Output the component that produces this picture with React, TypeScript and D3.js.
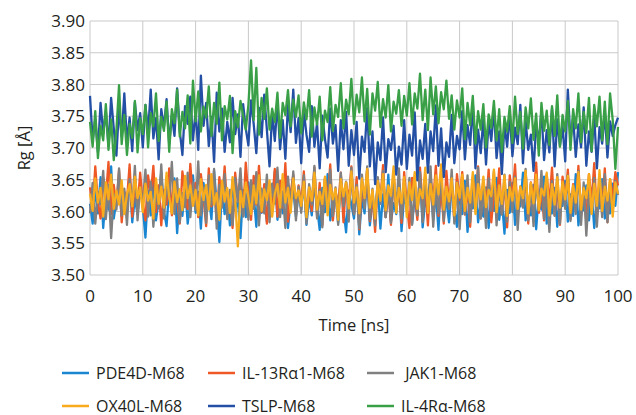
import React from "react";
import * as d3 from "d3";

// Rg values sampled every 0.5 ns over 0..100 ns
const pde4d = [
  3.612, 3.581, 3.638, 3.597, 3.654, 3.574, 3.626, 3.603, 3.671, 3.589, 3.617, 3.644, 3.592, 3.629, 3.606, 3.658, 3.583, 3.621, 3.596, 3.641,
  3.607, 3.559, 3.633, 3.594, 3.648, 3.586, 3.619, 3.662, 3.601, 3.577, 3.636, 3.609, 3.652, 3.566, 3.624, 3.593, 3.642, 3.581, 3.615, 3.657,
  3.598, 3.631, 3.573, 3.645, 3.606, 3.623, 3.588, 3.664, 3.611, 3.552, 3.637, 3.596, 3.628, 3.578, 3.649, 3.602, 3.619, 3.558, 3.634, 3.591,
  3.646, 3.604, 3.627, 3.576, 3.653, 3.598, 3.618, 3.584, 3.641, 3.609, 3.663, 3.587, 3.625, 3.597, 3.648, 3.574, 3.616, 3.635, 3.592, 3.629,
  3.603, 3.651, 3.579, 3.622, 3.594, 3.644, 3.608, 3.571, 3.637, 3.599, 3.659, 3.586, 3.614, 3.626, 3.582, 3.648, 3.605, 3.567, 3.632, 3.611,
  3.589, 3.643, 3.564, 3.621, 3.597, 3.654, 3.578, 3.616, 3.602, 3.639, 3.573, 3.627, 3.591, 3.658, 3.584, 3.613, 3.596, 3.645, 3.569, 3.624,
  3.607, 3.639, 3.581, 3.622, 3.594, 3.661, 3.575, 3.618, 3.603, 3.646, 3.587, 3.629, 3.571, 3.652, 3.599, 3.617, 3.583, 3.641, 3.608, 3.576,
  3.631, 3.596, 3.648, 3.568, 3.621, 3.605, 3.657, 3.583, 3.614, 3.592, 3.638, 3.574, 3.626, 3.601, 3.653, 3.587, 3.619, 3.565, 3.634, 3.598,
  3.645, 3.579, 3.623, 3.608, 3.661, 3.586, 3.616, 3.594, 3.642, 3.572, 3.628, 3.603, 3.655, 3.581, 3.612, 3.597, 3.637, 3.576, 3.624, 3.609,
  3.648, 3.584, 3.627, 3.593, 3.659, 3.578, 3.614, 3.602, 3.641, 3.586, 3.632, 3.574, 3.618, 3.605, 3.651, 3.589, 3.623, 3.597, 3.644, 3.609, 3.662,
];

const il13 = [
  3.638, 3.602, 3.671, 3.614, 3.589, 3.653, 3.621, 3.678, 3.596, 3.642, 3.608, 3.665, 3.583, 3.631, 3.617, 3.674, 3.592, 3.648, 3.606, 3.661,
  3.613, 3.586, 3.657, 3.624, 3.672, 3.599, 3.641, 3.578, 3.634, 3.611, 3.668, 3.594, 3.647, 3.619, 3.581, 3.663, 3.627, 3.604, 3.675, 3.616,
  3.645, 3.591, 3.659, 3.622, 3.577, 3.668, 3.608, 3.639, 3.585, 3.654, 3.613, 3.671, 3.597, 3.632, 3.574, 3.661, 3.618, 3.649, 3.593, 3.677,
  3.624, 3.587, 3.656, 3.611, 3.672, 3.599, 3.643, 3.581, 3.635, 3.614, 3.667, 3.592, 3.648, 3.606, 3.676, 3.584, 3.629, 3.658, 3.597, 3.641,
  3.612, 3.663, 3.588, 3.637, 3.601, 3.669, 3.594, 3.645, 3.578, 3.652, 3.619, 3.674, 3.586, 3.633, 3.608, 3.661, 3.583, 3.646, 3.615, 3.671,
  3.596, 3.654, 3.572, 3.638, 3.609, 3.666, 3.585, 3.627, 3.568, 3.649, 3.617, 3.673, 3.591, 3.636, 3.579, 3.658, 3.603, 3.644, 3.582, 3.662,
  3.611, 3.574, 3.653, 3.624, 3.587, 3.669, 3.602, 3.641, 3.578, 3.657, 3.616, 3.672, 3.593, 3.635, 3.581, 3.664, 3.609, 3.647, 3.586, 3.659,
  3.618, 3.662, 3.595, 3.638, 3.576, 3.654, 3.613, 3.671, 3.589, 3.643, 3.604, 3.666, 3.583, 3.629, 3.611, 3.668, 3.596, 3.648, 3.575, 3.657,
  3.621, 3.674, 3.592, 3.639, 3.607, 3.663, 3.581, 3.646, 3.616, 3.677, 3.598, 3.634, 3.586, 3.658, 3.612, 3.669, 3.594, 3.641, 3.579, 3.655,
  3.617, 3.666, 3.588, 3.643, 3.602, 3.672, 3.595, 3.637, 3.584, 3.659, 3.614, 3.676, 3.591, 3.645, 3.606, 3.668, 3.583, 3.651, 3.619, 3.662, 3.641,
];

const jak1 = [
  3.597, 3.645, 3.581, 3.631, 3.612, 3.664, 3.588, 3.642, 3.558, 3.627, 3.603, 3.668, 3.594, 3.636, 3.579, 3.651, 3.608, 3.672, 3.586, 3.638,
  3.614, 3.666, 3.592, 3.647, 3.576, 3.633, 3.605, 3.674, 3.589, 3.641, 3.619, 3.678, 3.596, 3.652, 3.583, 3.629, 3.607, 3.661, 3.591, 3.646,
  3.603, 3.679, 3.594, 3.638, 3.582, 3.657, 3.611, 3.667, 3.573, 3.642, 3.606, 3.659, 3.588, 3.634, 3.579, 3.653, 3.615, 3.668, 3.592, 3.628,
  3.587, 3.649, 3.604, 3.662, 3.578, 3.636, 3.597, 3.658, 3.583, 3.644, 3.612, 3.669, 3.591, 3.631, 3.574, 3.655, 3.607, 3.663, 3.586, 3.639,
  3.598, 3.657, 3.581, 3.643, 3.611, 3.672, 3.589, 3.634, 3.575, 3.651, 3.604, 3.666, 3.593, 3.638, 3.579, 3.661, 3.608, 3.647, 3.584, 3.669,
  3.596, 3.642, 3.574, 3.658, 3.605, 3.671, 3.587, 3.636, 3.578, 3.654, 3.612, 3.664, 3.591, 3.639, 3.582, 3.657, 3.603, 3.668, 3.589, 3.645,
  3.601, 3.653, 3.579, 3.637, 3.594, 3.662, 3.583, 3.648, 3.609, 3.671, 3.576, 3.641, 3.597, 3.659, 3.585, 3.634, 3.604, 3.666, 3.581, 3.646,
  3.572, 3.638, 3.596, 3.657, 3.583, 3.644, 3.608, 3.669, 3.589, 3.635, 3.574, 3.652, 3.601, 3.663, 3.578, 3.641, 3.595, 3.658, 3.584, 3.647,
  3.599, 3.655, 3.571, 3.639, 3.606, 3.667, 3.586, 3.643, 3.577, 3.651, 3.602, 3.664, 3.588, 3.636, 3.568, 3.648, 3.593, 3.659, 3.581, 3.642,
  3.604, 3.657, 3.585, 3.638, 3.596, 3.664, 3.579, 3.646, 3.562, 3.631, 3.598, 3.653, 3.576, 3.642, 3.591, 3.659, 3.583, 3.637, 3.602, 3.648, 3.626,
];

const ox40l = [
  3.628, 3.601, 3.652, 3.614, 3.637, 3.592, 3.646, 3.619, 3.658, 3.604, 3.633, 3.611, 3.649, 3.596, 3.627, 3.643, 3.608, 3.655, 3.621, 3.638,
  3.599, 3.644, 3.617, 3.631, 3.589, 3.652, 3.612, 3.639, 3.606, 3.661, 3.623, 3.597, 3.647, 3.615, 3.635, 3.602, 3.656, 3.621, 3.641, 3.609,
  3.634, 3.594, 3.651, 3.618, 3.642, 3.603, 3.659, 3.611, 3.629, 3.587, 3.648, 3.616, 3.637, 3.598, 3.654, 3.619, 3.545, 3.632, 3.607, 3.646,
  3.622, 3.596, 3.641, 3.613, 3.657, 3.601, 3.635, 3.618, 3.649, 3.592, 3.628, 3.643, 3.606, 3.659, 3.614, 3.637, 3.598, 3.652, 3.621, 3.633,
  3.609, 3.647, 3.591, 3.638, 3.617, 3.661, 3.603, 3.631, 3.612, 3.655, 3.594, 3.642, 3.619, 3.636, 3.587, 3.651, 3.624, 3.646, 3.605, 3.663,
  3.614, 3.638, 3.597, 3.652, 3.621, 3.667, 3.606, 3.634, 3.589, 3.648, 3.617, 3.659, 3.602, 3.641, 3.625, 3.671, 3.598, 3.637, 3.613, 3.654,
  3.591, 3.646, 3.618, 3.662, 3.604, 3.635, 3.621, 3.669, 3.598, 3.643, 3.611, 3.657, 3.627, 3.674, 3.603, 3.639, 3.616, 3.652, 3.594, 3.645,
  3.622, 3.658, 3.601, 3.637, 3.614, 3.662, 3.596, 3.643, 3.619, 3.655, 3.607, 3.634, 3.624, 3.666, 3.599, 3.641, 3.612, 3.657, 3.593, 3.638,
  3.617, 3.652, 3.604, 3.639, 3.621, 3.664, 3.597, 3.645, 3.613, 3.658, 3.602, 3.636, 3.625, 3.661, 3.594, 3.643, 3.611, 3.654, 3.606, 3.647,
  3.619, 3.656, 3.598, 3.641, 3.614, 3.662, 3.603, 3.637, 3.621, 3.659, 3.596, 3.644, 3.609, 3.665, 3.601, 3.639, 3.617, 3.651, 3.592, 3.646, 3.628,
];

const tslp = [
  3.782, 3.712, 3.745, 3.694, 3.771, 3.723, 3.758, 3.703, 3.779, 3.731, 3.688, 3.764, 3.718, 3.786, 3.709, 3.748, 3.695, 3.772, 3.728, 3.755,
  3.701, 3.768, 3.724, 3.792, 3.715, 3.747, 3.682, 3.761, 3.733, 3.777, 3.706, 3.752, 3.719, 3.794, 3.727, 3.689, 3.766, 3.738, 3.781, 3.712,
  3.758, 3.697, 3.814, 3.735, 3.771, 3.703, 3.749, 3.678, 3.787, 3.726, 3.762, 3.694, 3.741, 3.709, 3.779, 3.722, 3.753, 3.686, 3.769, 3.731,
  3.704, 3.775, 3.738, 3.692, 3.763, 3.717, 3.784, 3.729, 3.671, 3.756, 3.711, 3.772, 3.698, 3.744, 3.683, 3.769, 3.725, 3.792, 3.708, 3.747,
  3.676, 3.758, 3.721, 3.694, 3.766, 3.702, 3.739, 3.668, 3.751, 3.714, 3.685, 3.762, 3.707, 3.736, 3.664, 3.744, 3.698, 3.757, 3.672, 3.728,
  3.689, 3.741, 3.652, 3.718, 3.694, 3.763, 3.671, 3.726, 3.643, 3.709, 3.681, 3.748, 3.662, 3.714, 3.697, 3.735, 3.658, 3.702, 3.674, 3.744,
  3.667, 3.721, 3.688, 3.756, 3.649, 3.712, 3.683, 3.738, 3.661, 3.726, 3.695, 3.767, 3.672, 3.731, 3.654, 3.709, 3.686, 3.752, 3.676, 3.719,
  3.698, 3.758, 3.682, 3.736, 3.705, 3.771, 3.668, 3.729, 3.692, 3.747, 3.674, 3.741, 3.711, 3.763, 3.684, 3.726, 3.659, 3.738, 3.702, 3.754,
  3.687, 3.732, 3.706, 3.768, 3.676, 3.743, 3.697, 3.721, 3.664, 3.737, 3.709, 3.759, 3.681, 3.728, 3.693, 3.762, 3.671, 3.745, 3.703, 3.734,
  3.679, 3.792, 3.712, 3.748, 3.686, 3.737, 3.701, 3.764, 3.672, 3.726, 3.694, 3.751, 3.668, 3.733, 3.707, 3.757, 3.685, 3.742, 3.719, 3.736, 3.748,
];

const il4r = [
  3.741, 3.702, 3.758, 3.684, 3.735, 3.712, 3.769, 3.697, 3.745, 3.681, 3.728, 3.799, 3.706, 3.752, 3.689, 3.738, 3.716, 3.774, 3.693, 3.747,
  3.722, 3.768, 3.701, 3.755, 3.734, 3.786, 3.711, 3.749, 3.727, 3.773, 3.694, 3.761, 3.739, 3.792, 3.718, 3.757, 3.731, 3.783, 3.707, 3.806,
  3.742, 3.789, 3.726, 3.765, 3.748, 3.797, 3.719, 3.771, 3.738, 3.803, 3.712, 3.766, 3.745, 3.782, 3.692, 3.758, 3.733, 3.774, 3.751, 3.729,
  3.768, 3.838, 3.744, 3.826, 3.721, 3.779, 3.746, 3.794, 3.729, 3.762, 3.741, 3.787, 3.716, 3.771, 3.752, 3.791, 3.734, 3.776, 3.749, 3.783,
  3.723, 3.772, 3.745, 3.791, 3.718, 3.764, 3.737, 3.781, 3.712, 3.759, 3.741, 3.796, 3.727, 3.768, 3.749, 3.802, 3.731, 3.776, 3.753, 3.809,
  3.738, 3.784, 3.756, 3.811, 3.742, 3.793, 3.721, 3.786, 3.759, 3.804, 3.733, 3.777, 3.748, 3.799, 3.726, 3.773, 3.754, 3.791, 3.735, 3.782,
  3.751, 3.802, 3.737, 3.786, 3.762, 3.817, 3.744, 3.792, 3.728, 3.811, 3.753, 3.797, 3.739, 3.788, 3.761, 3.806, 3.746, 3.783, 3.729, 3.775,
  3.748, 3.794, 3.714, 3.771, 3.736, 3.782, 3.707, 3.758, 3.729, 3.769, 3.701, 3.753, 3.732, 3.774, 3.712, 3.761, 3.694, 3.749, 3.726, 3.766,
  3.708, 3.781, 3.722, 3.757, 3.699, 3.764, 3.731, 3.778, 3.713, 3.754, 3.688, 3.771, 3.727, 3.759, 3.705, 3.766, 3.719, 3.783, 3.702, 3.752,
  3.726, 3.774, 3.697, 3.761, 3.731, 3.786, 3.709, 3.757, 3.724, 3.779, 3.695, 3.768, 3.734, 3.781, 3.712, 3.773, 3.706, 3.786, 3.744, 3.667, 3.733,
];

const seriesNames = ["PDE4D-M68", "IL-13R\u03b11-M68", " JAK1-M68", "OX40L-M68", "TSLP-M68", "IL-4R\u03b1-M68"];
const seriesValues = [pde4d, il13, jak1, ox40l, tslp, il4r];
const seriesColors = ["#1a86d2", "#ee5726", "#808080", "#f8ab1c", "#2350a4", "#39a047"];

const xTicks = [0, 10, 20, 30, 40, 50, 60, 70, 80, 90, 100];
const yTicks = [3.5, 3.55, 3.6, 3.65, 3.7, 3.75, 3.8, 3.85, 3.9];

const W = 636;
const H = 415;
const margin = { top: 21, right: 18, bottom: 140, left: 90 };
const font = "'Open Sans', 'Noto Sans', sans-serif";
const textColor = "#231f20";

export default function App() {
  const x = d3.scaleLinear().domain([0, 100]).range([margin.left, W - margin.right]);
  const y = d3.scaleLinear().domain([3.5, 3.9]).range([H - margin.bottom, margin.top]);

  const line = (vals: number[]) =>
    d3
      .line<number>()
      .x((_, i) => x((i * 100) / (vals.length - 1)))
      .y((d) => y(d))(vals) as string;

  const legendCols = [62, 208, 367];
  const legendRows = [373, 406];

  return (
    <div style={{ position: "absolute", left: 0, top: 0 }}>
      <svg width={W} height={H} style={{ display: "block", background: "#fff" }}>
        {/* grid */}
        <g stroke="#c9c9c9" strokeWidth={1}>
          {xTicks.map((t) => (
            <line key={"gx" + t} x1={x(t)} x2={x(t)} y1={y(3.9)} y2={y(3.5)} />
          ))}
          {yTicks.map((t) => (
            <line key={"gy" + t} x1={x(0)} x2={x(100)} y1={y(t)} y2={y(t)} />
          ))}
        </g>

        {/* series */}
        <g fill="none" strokeWidth={2.3} strokeLinejoin="round">
          {seriesValues.map((vals, i) => (
            <path key={seriesNames[i]} d={line(vals)} stroke={seriesColors[i]} />
          ))}
        </g>

        {/* y tick labels */}
        <g fontFamily={font} fontSize={17} fill={textColor} textAnchor="end">
          {yTicks.map((t) => (
            <text key={"yl" + t} x={x(0) - 5} y={y(t) + 6}>
              {d3.format(".2f")(t)}
            </text>
          ))}
        </g>

        {/* x tick labels */}
        <g fontFamily={font} fontSize={17} fill={textColor} textAnchor="middle">
          {xTicks.map((t) => (
            <text key={"xl" + t} x={x(t)} y={y(3.5) + 27}>
              {t}
            </text>
          ))}
        </g>

        <text
          x={(x(0) + x(100)) / 2}
          y={y(3.5) + 56}
          fontFamily={font}
          fontSize={16.5}
          fill={textColor}
          textAnchor="middle"
        >
          Time [ns]
        </text>
        <text
          transform={`translate(30, ${(y(3.9) + y(3.5)) / 2}) rotate(-90)`}
          fontFamily={font}
          fontSize={16.5}
          fill={textColor}
          textAnchor="middle"
        >
          Rg [Å]
        </text>

        {/* legend */}
        <g fontFamily={font} fontSize={16} fill={textColor}>
          {seriesNames.map((name, i) => {
            const lx = legendCols[i % 3];
            const ly = legendRows[Math.floor(i / 3)];
            return (
              <g key={"lg" + i}>
                <line x1={lx} x2={lx + 27} y1={ly} y2={ly} stroke={seriesColors[i]} strokeWidth={2.5} />
                <text x={lx + 34} y={ly + 5.5} style={{ whiteSpace: "pre" }}>
                  {name}
                </text>
              </g>
            );
          })}
        </g>
      </svg>
    </div>
  );
}
